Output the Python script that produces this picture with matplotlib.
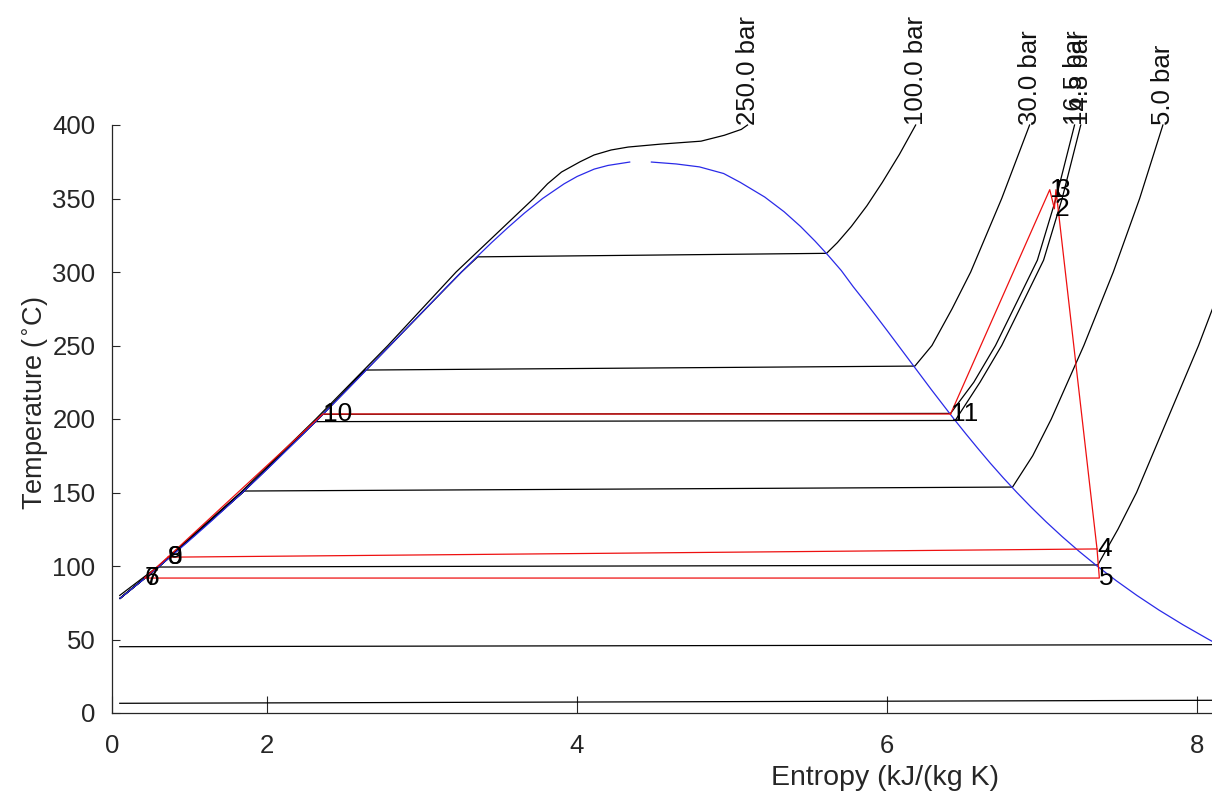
import matplotlib
matplotlib.use("Agg")
import matplotlib.pyplot as plt

plt.rcParams['font.family'] = ['Liberation Sans', 'DejaVu Sans']

# ---------------- data ----------------
# saturated liquid line
liq_T = [78, 80, 90, 100, 110, 120, 130, 140, 150, 160, 170, 180, 190, 200,
         210, 220, 230, 240, 250, 260, 270, 280, 290, 300, 310, 320, 330,
         340, 350, 360, 365, 370, 372.5, 374.8]
liq_s = [1.052, 1.076, 1.193, 1.307, 1.419, 1.528, 1.635, 1.739, 1.842, 1.943,
         2.042, 2.139, 2.236, 2.331, 2.425, 2.518, 2.610, 2.702, 2.794, 2.885,
         2.977, 3.069, 3.161, 3.255, 3.351, 3.449, 3.552, 3.660, 3.778, 3.917,
         4.001, 4.111, 4.200, 4.340]
# saturated vapour line
vap_T = [374.8, 373.5, 371.5, 367, 361, 351, 341, 331, 321, 311, 301, 290,
         280, 270, 260, 250, 240, 230, 220, 210, 200, 190, 180, 170, 160, 150,
         140, 130, 120, 110, 100, 90, 80, 70, 60, 50, 45]
vap_s = [4.480, 4.640, 4.790, 4.946, 5.053, 5.211, 5.336, 5.442, 5.536, 5.623,
         5.705, 5.782, 5.857, 5.930, 6.002, 6.073, 6.144, 6.215, 6.286, 6.359,
         6.432, 6.508, 6.586, 6.666, 6.750, 6.838, 6.930, 7.027, 7.130, 7.239,
         7.355, 7.479, 7.612, 7.755, 7.910, 8.076, 8.163]

# isobars (black)
p250_s = [1.050, 1.300, 1.830, 2.315, 2.780, 3.220, 3.520, 3.720, 3.810, 3.900,
          4.020, 4.110, 4.220, 4.330, 4.540, 4.800, 4.950, 5.060, 5.100]
p250_T = [80, 100, 150, 200, 250, 300, 330, 350, 360, 368, 375, 379.6, 383,
          385, 387, 389, 393, 397, 400]

p100_s = [1.052, 1.307, 1.842, 2.331, 2.794, 3.255, 3.360, 5.610, 5.680, 5.770,
          5.870, 5.970, 6.080, 6.185]
p100_T = [78, 100, 150, 200, 250, 300, 310.3, 312.7, 320, 331, 345, 361, 380, 400]

p30_s = [1.052, 1.307, 1.842, 2.331, 2.630, 6.180, 6.290, 6.420, 6.540, 6.640,
         6.740, 6.830, 6.920]
p30_T = [78, 100, 150, 200, 233.3, 236, 250, 275, 300, 325, 350, 375, 400]

p165_s = [1.052, 1.307, 1.842, 2.360, 6.410, 6.560, 6.700, 6.840, 6.970, 7.090,
          7.210]
p165_T = [78, 100, 150, 203.2, 203.8, 225, 250, 280, 308, 350, 400]

p148_s = [1.052, 1.307, 1.842, 2.310, 6.440, 6.600, 6.740, 6.880, 7.010, 7.130,
          7.250]
p148_T = [78, 100, 150, 198.2, 199, 225, 250, 280, 308, 350, 400]

p5_s = [1.052, 1.307, 1.845, 6.810, 6.940, 7.060, 7.270, 7.460, 7.630, 7.780]
p5_T = [78, 100, 151, 153.7, 175, 200, 250, 300, 350, 400]

p1_s = [1.052, 1.300, 7.360, 7.490, 7.610, 7.810, 8.010, 8.190, 8.380, 8.520]
p1_T = [78, 99.3, 100.7, 125, 150, 200, 250, 300, 350, 400]

p01_s = [1.050, 8.150, 8.400]
p01_T = [45.1, 46.5, 75]

p001_s = [1.050, 8.970]
p001_T = [6.6, 8.9]

isobar_labels = ['250.0 bar', '100.0 bar', '30.0 bar', '16.5 bar', '14.8 bar',
                 '5.0 bar']

# cycle state points (red)
pt_names = ['1', '2', '3', '4', '5', '6', '7', '8', '9', '10', '11']
pt_s = [7.050, 7.080, 7.090, 7.355, 7.370, 1.210, 1.210, 1.360, 1.360, 2.360, 6.410]
pt_T = [356, 343, 356, 111.6, 91.8, 91.8, 91.8, 106, 106, 203.4, 203.4]
# cycle path as sequences of state numbers
cycle_paths = [[11, 1, 2, 3, 4, 5, 6, 7, 8, 9, 10, 11], [8, 4]]

# ---------------- figure ----------------
W, H = 1212, 800
fig = plt.figure(figsize=(W / 100, H / 100), dpi=100)
left_px, right_px, bot_px, top_px = 112, 1662, 713, 125
ax = fig.add_axes([left_px / W, 1 - bot_px / H, (right_px - left_px) / W,
                   (bot_px - top_px) / H])

lw = 0.9
isobars = [(p250_s, p250_T), (p100_s, p100_T), (p30_s, p30_T),
           (p165_s, p165_T), (p148_s, p148_T), (p5_s, p5_T), (p1_s, p1_T),
           (p01_s, p01_T), (p001_s, p001_T)]
for s, T in isobars:
    ax.plot(s, T, color='k', lw=lw, clip_on=False)

ax.plot(liq_s, liq_T, color='#2a2ae8', lw=lw)
ax.plot(vap_s, vap_T, color='#2a2ae8', lw=lw)

for path in cycle_paths:
    xs = [pt_s[i - 1] for i in path]
    ys = [pt_T[i - 1] for i in path]
    ax.plot(xs, ys, color='#ee1010', lw=lw)

for name, s, T in zip(pt_names, pt_s, pt_T):
    ax.text(s, T, name, fontsize=19, ha='left', va='center', color='k')

for lab, (s, T) in zip(isobar_labels, isobars[:6]):
    ax.text(s[-1], T[-1], lab, rotation=90, rotation_mode='anchor',
            ha='left', va='center', fontsize=18.5, color='#111111', clip_on=False)

ax.set_xlim(1, 11)
ax.set_ylim(0, 400)
ax.set_xticks([1, 2, 4, 6, 8])
ax.set_xticklabels(['0', '2', '4', '6', '8'])
ax.set_yticks(range(0, 401, 50))
axcol = '#262626'
for sp in ['top', 'right']:
    ax.spines[sp].set_visible(False)
for sp in ['left', 'bottom']:
    ax.spines[sp].set_color(axcol)
    ax.spines[sp].set_linewidth(0.9)
ax.tick_params(axis='x', direction='in', length=12, width=0.8, pad=15,
               labelsize=18.5, colors=axcol)
ax.tick_params(axis='y', direction='in', length=6, width=0.8, pad=12,
               labelsize=18.5, colors=axcol)
ax.set_xlabel('Entropy (kJ/(kg K)', fontsize=20.5, color=axcol, labelpad=8)
ax.set_ylabel(r'Temperature ($^{\circ}$C)', fontsize=19.5, color=axcol)
ax.xaxis.set_label_coords((885 - left_px) / (right_px - left_px),
                          -(778 - bot_px) / (bot_px - top_px))
ax.xaxis.get_label().set_va('center')
ax.yaxis.set_label_coords(-(left_px - 35) / (right_px - left_px),
                          (bot_px - 403) / (bot_px - top_px))
ax.yaxis.get_label().set_va('center')

fig.savefig('out.png', dpi=100)
